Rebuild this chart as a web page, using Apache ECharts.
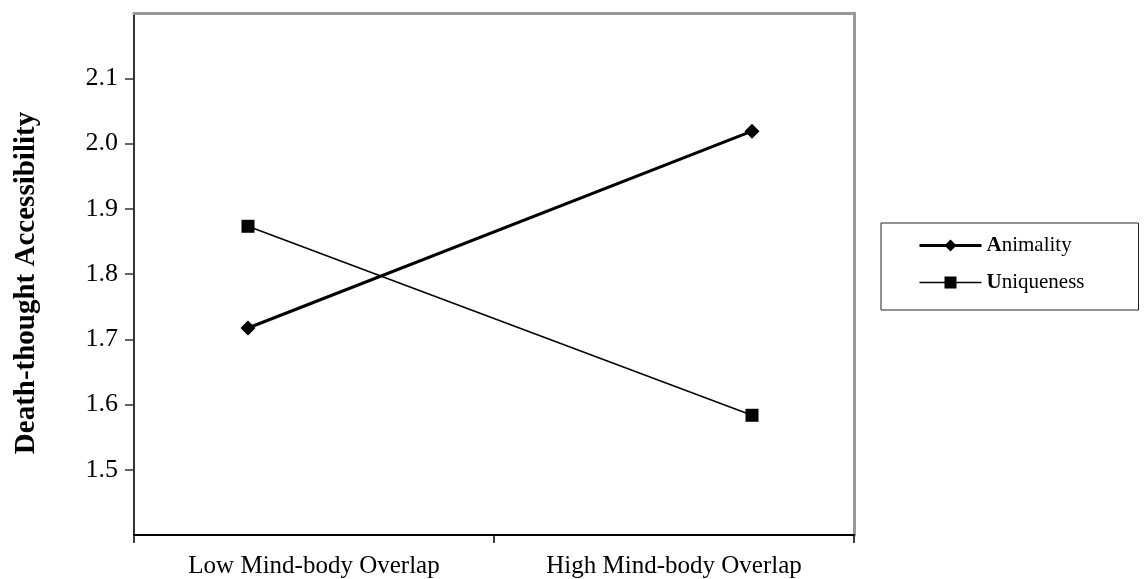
<!DOCTYPE html>
<html>
<head>
<meta charset="utf-8">
<script src="https://cdn.jsdelivr.net/npm/echarts@6/dist/echarts.min.js"></script>
<style>
  html, body { margin: 0; padding: 0; background: #fff; }
  #chart { width: 1144px; height: 579px; }
</style>
</head>
<body>
<div id="chart"></div>
<script>
// ── Data ────────────────────────────────────────────────────────────────
const conditions = ['Low Mind-body Overlap', 'High Mind-body Overlap']
const animality = [1.72, 2.02]
const uniqueness = [1.875, 1.587]
const yMin = 1.4
const yMax = 2.2
const yStep = 0.1

const FONT = '"Liberation Serif", "DejaVu Serif", serif'

// ── Chart ───────────────────────────────────────────────────────────────
const chart = echarts.init(document.getElementById('chart'))

const option = {
  animation: false,
  backgroundColor: '#fff',
  textStyle: { fontFamily: FONT, color: '#000' },
  grid: [
    // frame with the visible axes
    { left: 134, right: 290, top: 13, bottom: 41 },
    // inner grid the lines are drawn in
    { left: 248, right: 392, top: 13, bottom: 41 }
  ],
  legend: {
    orient: 'vertical',
    left: 881,
    top: 223,
    padding: [12, 54, 17, 37],
    itemWidth: 62,
    itemHeight: 15,
    itemGap: 16,
    borderColor: '#222',
    borderWidth: 1,
    data: [
      { name: 'Animality', lineStyle: { width: 3, color: '#000' }, itemStyle: { color: '#000' } },
      { name: 'Uniqueness', lineStyle: { width: 1.5, color: '#000' }, itemStyle: { color: '#000' } }
    ],
    formatter: (name) => `{b|${name[0]}}${name.slice(1)}`,
    textStyle: {
      fontFamily: FONT,
      fontSize: 21,
      color: '#000',
      rich: { b: { fontFamily: FONT, fontSize: 21, fontWeight: 'bold', color: '#000' } }
    }
  },
  xAxis: [
    {
      type: 'category',
      gridIndex: 0,
      data: conditions,
      boundaryGap: true,
      axisLine: { lineStyle: { color: '#000', width: 2 } },
      axisTick: { show: true, length: 8, lineStyle: { color: '#000', width: 1.5 } },
      axisLabel: { fontFamily: FONT, fontSize: 25, color: '#000', margin: 19 }
    },
    {
      type: 'category',
      gridIndex: 0,
      position: 'top',
      data: conditions,
      axisLine: { lineStyle: { color: '#999', width: 3 } },
      axisTick: { show: false },
      axisLabel: { show: false }
    },
    {
      type: 'category',
      gridIndex: 1,
      data: conditions,
      boundaryGap: false,
      show: false
    }
  ],
  yAxis: [
    {
      type: 'value',
      gridIndex: 0,
      min: yMin,
      max: yMax,
      interval: yStep,
      name: 'Death-thought Accessibility',
      nameLocation: 'middle',
      nameRotate: 90,
      nameGap: 93,
      nameTextStyle: {
        fontFamily: FONT,
        fontSize: 29,
        fontWeight: 'bold',
        color: '#000',
        padding: [0, 18, 0, 0]
      },
      splitLine: { show: false },
      axisLine: { show: true, lineStyle: { color: '#333', width: 2 } },
      axisTick: { show: true, length: 9, lineStyle: { color: '#333', width: 1.5 } },
      axisLabel: {
        fontFamily: FONT,
        fontSize: 26,
        color: '#000',
        margin: 16,
        showMinLabel: false,
        showMaxLabel: false,
        formatter: (v) => v.toFixed(1)
      }
    },
    {
      type: 'value',
      gridIndex: 0,
      position: 'right',
      min: yMin,
      max: yMax,
      splitLine: { show: false },
      axisLine: { show: true, lineStyle: { color: '#999', width: 3 } },
      axisTick: { show: false },
      axisLabel: { show: false }
    },
    {
      type: 'value',
      gridIndex: 1,
      min: yMin,
      max: yMax,
      show: false,
      splitLine: { show: false }
    }
  ],
  series: [
    {
      name: 'Animality',
      type: 'line',
      xAxisIndex: 2,
      yAxisIndex: 2,
      data: animality,
      symbol: 'diamond',
      symbolSize: 15,
      lineStyle: { color: '#000', width: 3 },
      itemStyle: { color: '#000' }
    },
    {
      name: 'Uniqueness',
      type: 'line',
      xAxisIndex: 2,
      yAxisIndex: 2,
      data: uniqueness,
      symbol: 'rect',
      symbolSize: 13,
      lineStyle: { color: '#000', width: 1.5 },
      itemStyle: { color: '#000' }
    }
  ]
}

chart.setOption(option)
</script>
</body>
</html>
